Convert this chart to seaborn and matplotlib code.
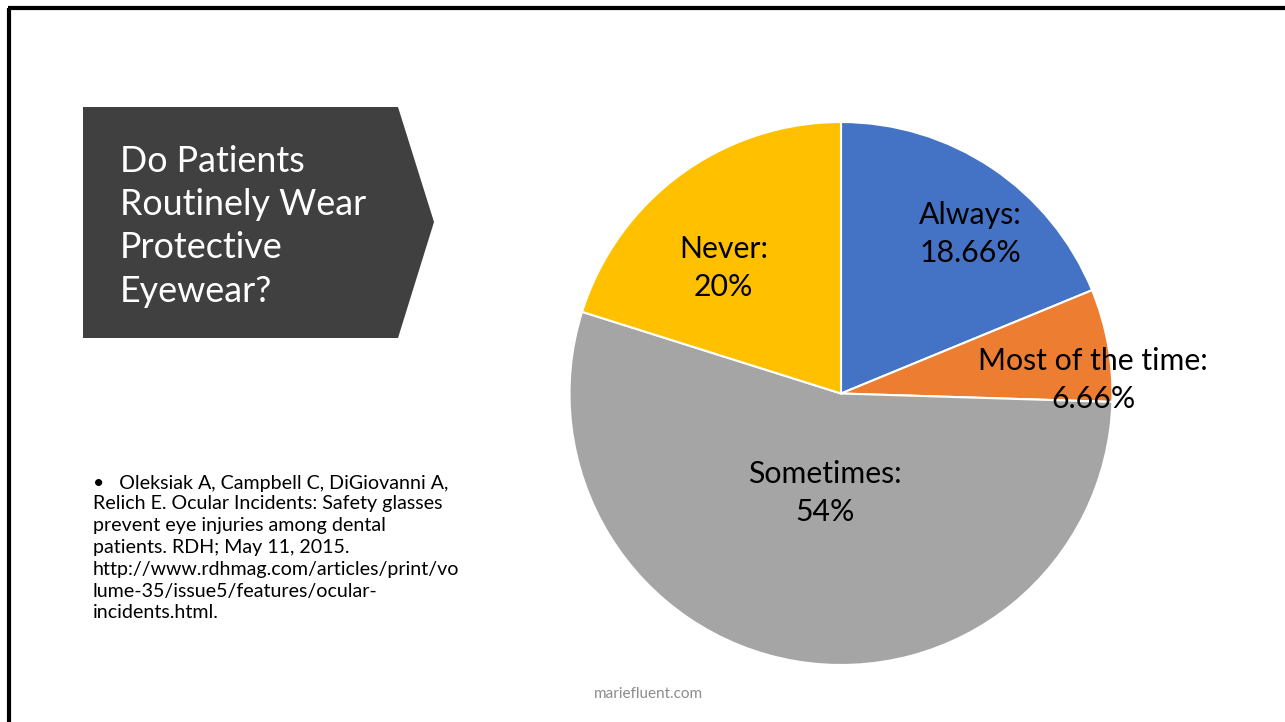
import numpy as np
import matplotlib
matplotlib.use("Agg")
import matplotlib.pyplot as plt
from matplotlib.patches import Polygon
import seaborn as sns

# ---- data ----
categories = ["Always", "Most of the time", "Sometimes", "Never"]
values = [18.66, 6.66, 54, 20]
value_labels = ["18.66%", "6.66%", "54%", "20%"]
colors = ["#4472C4", "#ED7D31", "#A5A5A5", "#FFC000"]
title_lines = ["Do Patients", "Routinely Wear", "Protective", "Eyewear?"]
citation_lines = [
    "•   Oleksiak A, Campbell C, DiGiovanni A,",
    "Relich E. Ocular Incidents: Safety glasses",
    "prevent eye injuries among dental",
    "patients. RDH; May 11, 2015.",
    "http://www.rdhmag.com/articles/print/vo",
    "lume-35/issue5/features/ocular-",
    "incidents.html.",
]
footer = "mariefluent.com"

# label placement (angle in degrees, radius fraction) per slice
label_pos = [(51, 0.756), (3, 0.93), (261, 0.37), (133, 0.633)]

sns.set_theme(style="white")
plt.rcParams["font.family"] = ["Lato", "DejaVu Sans"]

W, H = 1285, 722
fig = plt.figure(figsize=(W / 100, H / 100), dpi=100)
fig.patch.set_facecolor("white")

# background / overlay axes in pixel coordinates
bg = fig.add_axes([0, 0, 1, 1])
bg.set_xlim(0, W)
bg.set_ylim(H, 0)
bg.axis("off")

# slide border (top & left)
bg.plot([9, 9], [H + 5, 8], color="black", lw=3, solid_capstyle="butt")
bg.plot([8, W + 5], [8, 8], color="black", lw=3, solid_capstyle="butt")

# title chevron
bg.add_patch(Polygon([[83, 107], [398, 107], [434, 222], [398, 338], [83, 338]],
                     closed=True, facecolor="#404040", edgecolor="none"))
for i, line in enumerate(title_lines):
    bg.text(120, 161 + i * 43.5, line, color="white", fontsize=25.8,
            fontweight="normal", va="center", ha="left")

# citation
cit_y = [483, 503, 526, 547, 569, 591, 613]
for line, y in zip(citation_lines, cit_y):
    bg.text(93, y, line, fontsize=14.1, color="black", va="center", ha="left")

# footer
bg.text(648, 694, footer, fontsize=11, color="#8C8C8C", ha="center", va="center")

# pie chart
cx, cy, r = 841, 393.5, 271.5
ax = fig.add_axes([(cx - r) / W, (H - cy - r) / H, 2 * r / W, 2 * r / H])
wedges, _ = ax.pie(values, colors=colors, startangle=90, counterclock=False,
                   radius=1, wedgeprops=dict(edgecolor="white", linewidth=1.5))
ax.set_xlim(-1, 1)
ax.set_ylim(-1, 1)
ax.set_aspect("equal")
ax.axis("off")

for cat, lab, (ang, frac) in zip(categories, value_labels, label_pos):
    a = np.deg2rad(ang)
    ax.text(frac * np.cos(a), frac * np.sin(a), f"{cat}:\n{lab}",
            ha="center", va="center", fontsize=21.8, color="black",
            linespacing=1.42, clip_on=False)

fig.savefig("out.png", dpi=100, facecolor="white")
